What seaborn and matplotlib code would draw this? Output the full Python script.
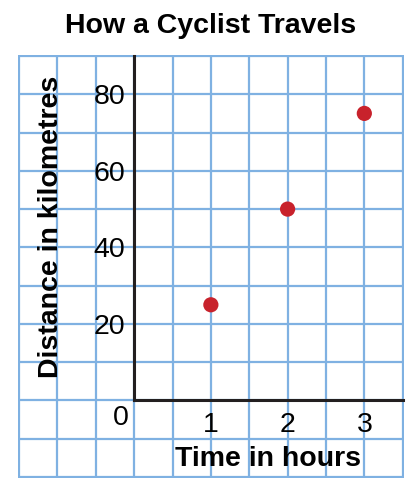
import matplotlib
matplotlib.use("Agg")
import matplotlib.pyplot as plt
from matplotlib.ticker import MultipleLocator, FixedLocator
import pandas as pd
import seaborn as sns

hours = [1, 2, 3]
distance_km = [25, 50, 75]
x_tick_values = [1, 2, 3]
y_tick_values = [20, 40, 60, 80]

TITLE = "How a Cyclist Travels"
X_LABEL = "Time in hours"
Y_LABEL = "Distance in kilometres"

GRID_BLUE = "#7fb1e2"
AXIS_BLACK = "#231f20"
DOT_RED = "#c8222c"

sns.set_style("white")
plt.rcParams['font.family'] = ['Liberation Sans', 'DejaVu Sans']
plt.rcParams['text.color'] = "black"

df = pd.DataFrame({"hours": hours, "km": distance_km})

fig = plt.figure(figsize=(4.16, 4.95), dpi=100)
ax = fig.add_axes([0.0421, 0.0340, 0.9296, 0.8552])

sns.scatterplot(data=df, x="hours", y="km", ax=ax, s=120, color=DOT_RED,
                edgecolor="none", zorder=4)

ax.set_xlim(-1.52, 3.52)
ax.set_ylim(-20.3, 90.3)

# squared paper
ax.xaxis.set_major_locator(FixedLocator(x_tick_values))
ax.yaxis.set_major_locator(FixedLocator(y_tick_values))
ax.xaxis.set_minor_locator(MultipleLocator(0.5))
ax.yaxis.set_minor_locator(MultipleLocator(10))
ax.grid(which="both", color=GRID_BLUE, linewidth=1.6)
ax.set_axisbelow(True)

for side in ["top", "right"]:
    ax.spines[side].set_visible(False)
ax.spines["left"].set_position(("data", 0))
ax.spines["bottom"].set_position(("data", 0))
ax.spines["left"].set_bounds(0, 90)
ax.spines["bottom"].set_bounds(0, 3.5)
for side in ["left", "bottom"]:
    ax.spines[side].set_color(AXIS_BLACK)
    ax.spines[side].set_linewidth(2.2)
    ax.spines[side].set_zorder(3)

ax.tick_params(which="both", length=0, labelsize=20.5, colors="black")
ax.tick_params(axis="y", pad=6.5)
ax.tick_params(axis="x", pad=8)
ax.set_xlabel("")
ax.set_ylabel("")

ax.text(-0.18, -6.3, "0", fontsize=20.5, ha="center", va="baseline")
ax.text(1.75, -17.2, X_LABEL, fontsize=20.5, fontweight="bold",
        ha="center", va="baseline")
ax.text(-0.99, 45.3, Y_LABEL, fontsize=20.5, fontweight="bold", rotation=90,
        rotation_mode="anchor", ha="center", va="baseline")

fig.text(0.505, 1 - 33 / 495, TITLE, fontsize=20.5, fontweight="bold",
         ha="center", va="baseline")

fig.savefig("out.png", dpi=100)
